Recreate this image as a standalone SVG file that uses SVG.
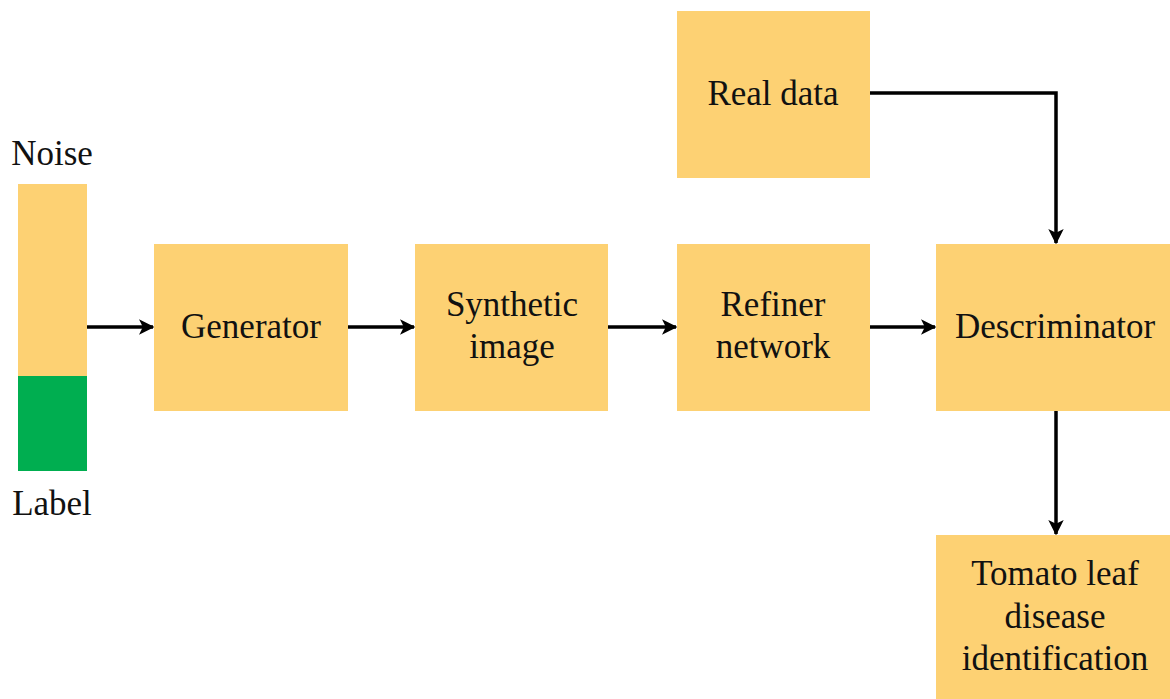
<svg xmlns="http://www.w3.org/2000/svg" width="1170" height="699" viewBox="0 0 1170 699">
  <style>
    .box { fill: #FDD173; }
    .lbl { font-family: "Liberation Serif", "Times New Roman", serif; font-size: 35px; fill: #111; text-anchor: middle; }
    .edge { stroke: #000; stroke-width: 3.5; fill: none; marker-end: url(#arrow); }
  </style>
  <defs>
    <marker id="arrow" markerWidth="4.4" markerHeight="4.4" refX="4" refY="2.2" orient="auto" markerUnits="strokeWidth">
      <path d="M0,0 L4.4,2.2 L0,4.4 L1.1,2.2 Z" fill="#000"/>
    </marker>
  </defs>
  <rect width="1170" height="699" fill="#fff"/>

  <g id="input">
    <rect x="18" y="184" width="69" height="192" class="box"/>
    <rect x="18" y="376" width="69" height="95" fill="#00AE50"/>
    <text class="lbl" x="52" y="165">Noise</text>
    <text class="lbl" x="52" y="515">Label</text>
  </g>

  <g id="generator">
    <rect x="154" y="244" width="194" height="167" class="box"/>
    <text class="lbl" x="251" y="338">Generator</text>
  </g>

  <g id="synthetic">
    <rect x="415" y="244" width="193" height="167" class="box"/>
    <text class="lbl" x="512" y="316">Synthetic</text>
    <text class="lbl" x="512" y="358">image</text>
  </g>

  <g id="refiner">
    <rect x="677" y="244" width="193" height="167" class="box"/>
    <text class="lbl" x="773" y="316">Refiner</text>
    <text class="lbl" x="773" y="358">network</text>
  </g>

  <g id="real-data">
    <rect x="677" y="11" width="193" height="167" class="box"/>
    <text class="lbl" x="773" y="105">Real data</text>
  </g>

  <g id="discriminator">
    <rect x="936" y="244" width="234" height="167" class="box"/>
    <text class="lbl" x="1055" y="338">Descriminator</text>
  </g>

  <g id="identification">
    <rect x="936" y="535" width="234" height="164" class="box"/>
    <text class="lbl" x="1055" y="585">Tomato leaf</text>
    <text class="lbl" x="1055" y="628">disease</text>
    <text class="lbl" x="1055" y="670">identification</text>
  </g>

  <g id="connectors">
    <path class="edge" d="M87,327 L153,327"/>
    <path class="edge" d="M348,327 L414,327"/>
    <path class="edge" d="M608,327 L676,327"/>
    <path class="edge" d="M870,327 L935,327"/>
    <path class="edge" d="M870,93 L1056,93 L1056,243"/>
    <path class="edge" d="M1056,411 L1056,534"/>
  </g>
</svg>
